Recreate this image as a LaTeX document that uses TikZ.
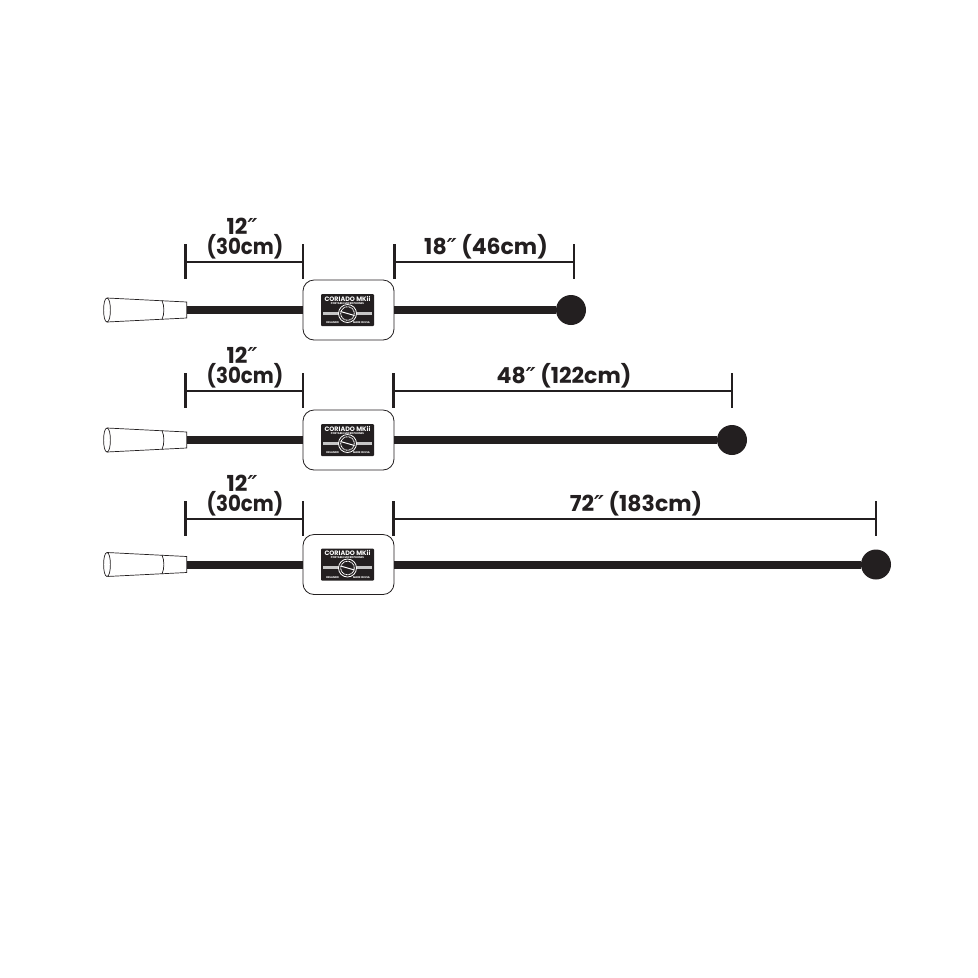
\documentclass[tikz,border=0pt]{standalone}
\usepackage{graphicx}
\usepackage{fontspec}
\setmainfont{Poppins}[BoldFont={Poppins Bold}]
\newfontfamily\primefont{DejaVu Sans}
\usetikzlibrary{calc}
\definecolor{ink}{HTML}{231F20}
\newcommand{\dprime}{{\primefont\bfseries\itshape ″}}
\tikzset{
  x=1pt,y=-1pt,
  dimtext/.style={font=\bfseries\fontsize{22}{22}\selectfont,text=ink,inner sep=0pt,anchor=center},
  dimbase/.style={dimtext,anchor=base},
  dimline/.style={draw=ink,line width=2.8pt},
  cord/.style={draw=ink,line width=8pt},
  housing/.style={draw=ink,line width=0.8pt,rounded corners=11pt,fill=white,minimum width=91pt,minimum height=60pt,inner sep=0pt},
  ball/.style={circle,fill=ink,inner sep=0pt,minimum size=30pt},
  plate/.style={fill=ink,rounded corners=1pt,minimum width=53pt,minimum height=32pt,inner sep=0pt},
  platetext/.style={text=white,inner sep=0pt},
  plug/.style={draw=ink,line width=0.7pt,fill=white}
}
\newcommand{\cable}[9]{%
% #1 id, #2 cord y, #3 dim y, #4 ball x, #5 right-dim left x, #6 right label, #7 right label x, #8 box y, #9 right-dim right x
\coordinate (plugend#1) at (186.5,#2);
\node[housing] (box#1) at (348.5,#8) {};
\node[ball] (ball#1) at (#4,#2) {};
\draw[cord] (plugend#1) -- (box#1.west |- plugend#1);
\draw[cord] (box#1.east |- ball#1) -- (ball#1);
\draw[plug] (107,#2-12) -- (186.7,#2-8) -- (186.7,#2+8) -- (107,#2+12) .. controls (102.5,#2+12) and (102.5,#2-12) .. cycle;
\draw[plug] (107,#2-12) .. controls (111.5,#2-12) and (111.5,#2+12) .. (107,#2+12);
\draw[plug,fill=none] (162,#2-9.5) .. controls (164.5,#2-4) and (164.5,#2+4) .. (162,#2+9.5);
% left dimension
\coordinate (la#1) at (185.5,#3);
\coordinate (lb#1) at (303,#3);
\draw[dimline] (la#1) -- (lb#1);
\draw[dimline] ($(la#1)+(0,-18)$) -- ($(la#1)+(0,17)$);
\draw[dimline] ($(lb#1)+(0,-18)$) -- ($(lb#1)+(0,17)$);
\node[dimbase] (ltop#1) at (242,#3-27.5) {12\dprime};
\node[dimbase] (lbot#1) at (245,#3-8) {\scalebox{.9}[1]{(30cm)}};
% right dimension
\coordinate (ra#1) at (#5,#3);
\coordinate (rb#1) at (#9,#3);
\draw[dimline] (ra#1) -- (rb#1);
\draw[dimline] ($(ra#1)+(0,-18)$) -- ($(ra#1)+(0,17)$);
\draw[dimline] ($(rb#1)+(0,-18)$) -- ($(rb#1)+(0,17)$);
\node[dimbase] (rlab#1) at (#7,#3-8) {#6};
% label plate
\node[plate] (plate#1) at (347.5,#8) {};
\node[platetext,font=\bfseries\fontsize{6.4}{6.4}\selectfont] (pt#1) at (347.5,#8-11.5) {CORIADO MKii};
\node[platetext,font=\bfseries\fontsize{2.6}{2.6}\selectfont] (ps#1) at (347.5,#8-6.5) {PORTABLE MICROPHONES};
\fill[gray!45] (323,#8+1.8) rectangle (372,#8+4.8);
\node[circle,fill=ink,draw=white,line width=0.8pt,minimum size=18pt,inner sep=0pt] (pl#1) at (347.5,#8+3.5) {};
\draw[white,line width=1pt] (340.5,#8+1.5) -- (354.5,#8+5.5);
\draw[white,line width=0.9pt,dash pattern=on 1pt off .6pt] (pl#1) circle[radius=6.8pt];
\node[platetext,font=\bfseries\fontsize{2.6}{2.6}\selectfont,anchor=west] at (326,#8+13) {ORLANDO};
\node[platetext,font=\bfseries\fontsize{2.6}{2.6}\selectfont,anchor=east] at (370,#8+13) {MADE IN USA};
}
\begin{document}
\begin{tikzpicture}
\useasboundingbox[fill=white] (0,0) rectangle (978,978);
\cable{a}{310}{262}{571}{394.5}{18\dprime\ (46cm)}{486}{310}{574}
\cable{b}{440}{391}{732}{393.5}{48\dprime\ (122cm)}{564}{440}{732}
\cable{c}{564.5}{519}{876}{393.5}{72\dprime\ (183cm)}{636}{564.5}{876}
\end{tikzpicture}
\end{document}
